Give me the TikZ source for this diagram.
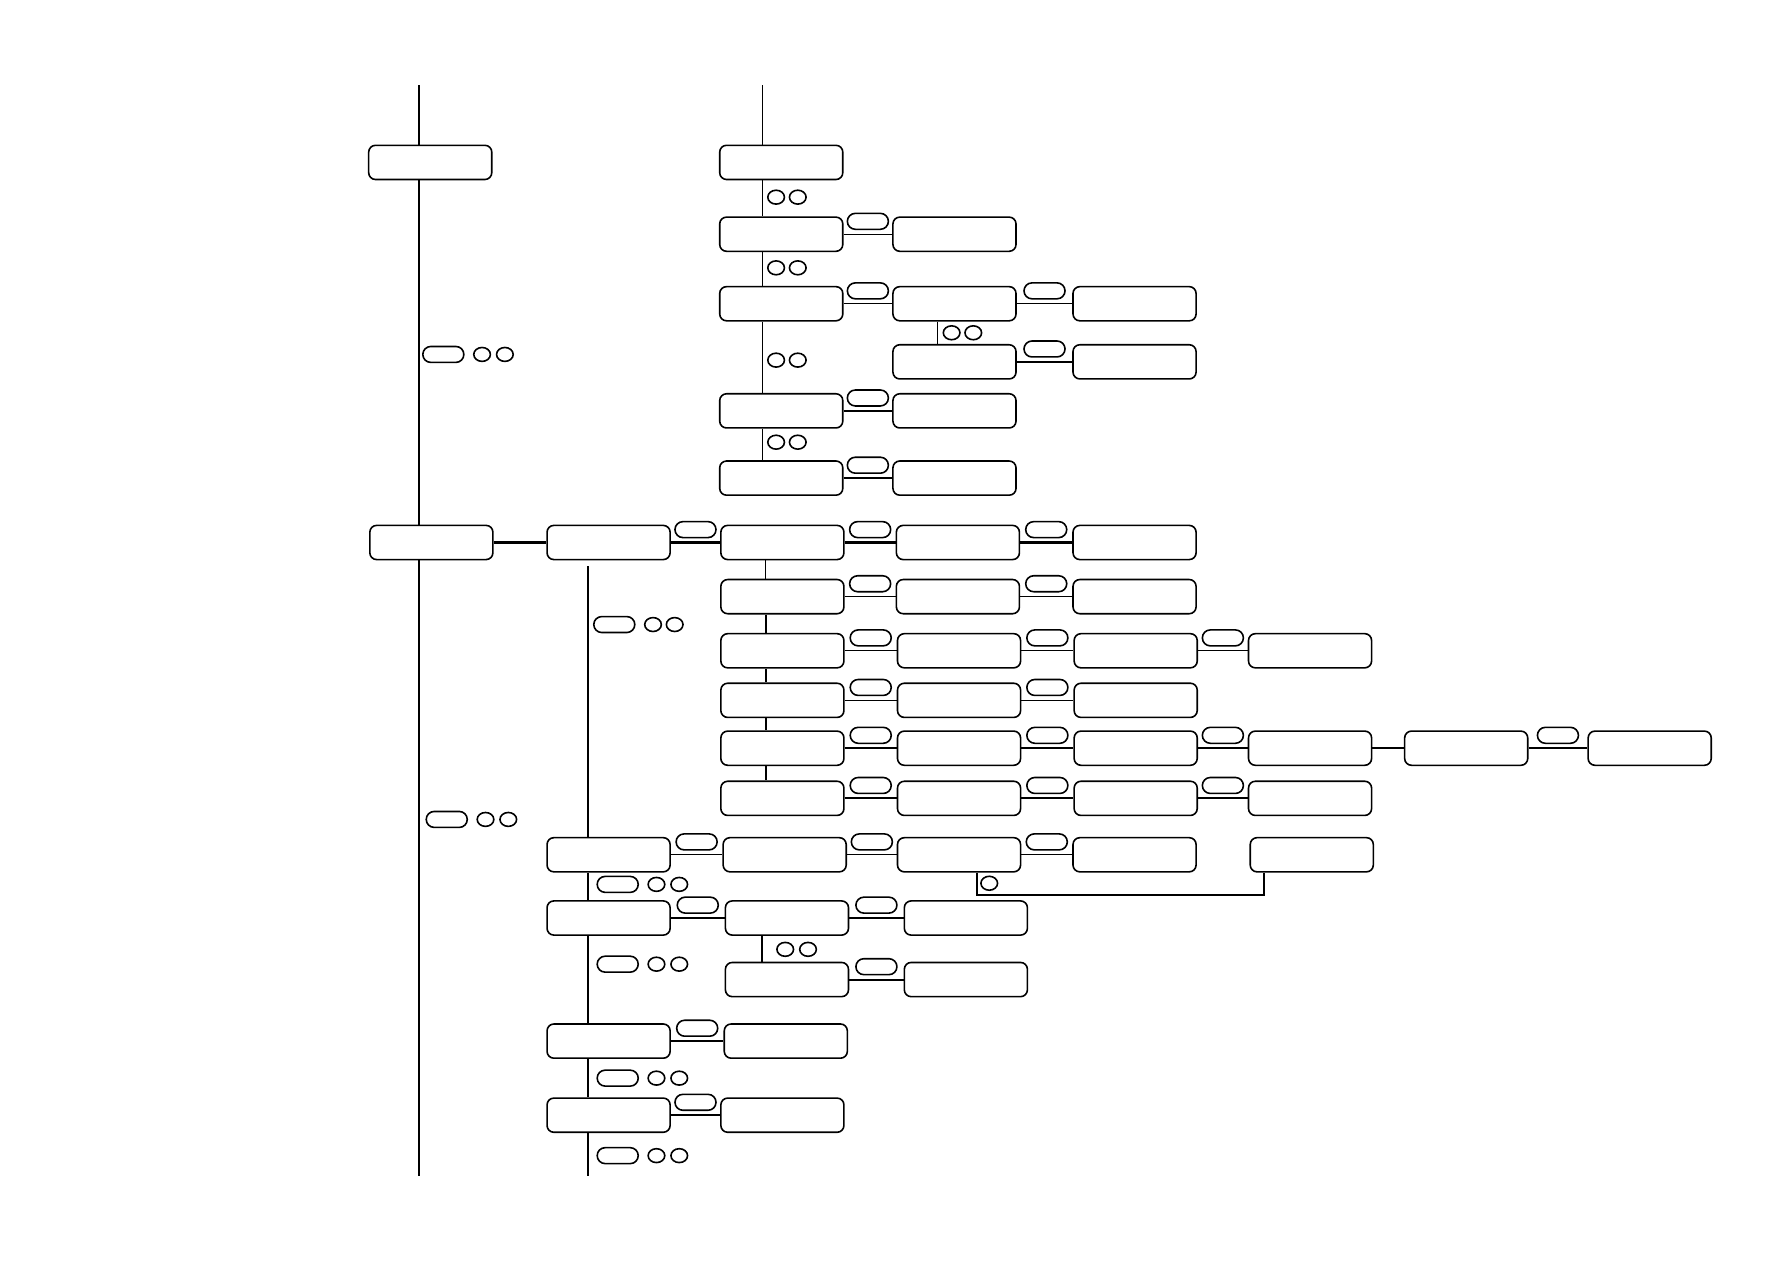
\documentclass[tikz,border=0pt]{standalone}
\usetikzlibrary{shapes.geometric,positioning}
\begin{document}
\begin{tikzpicture}[x=0.5pt,y=-0.5pt,
    box/.style={draw, rounded corners=3pt, minimum width=54pt, minimum height=15pt, inner sep=0pt, line width=0.7pt},
    keybox/.style={draw, rounded corners=3.5pt, minimum width=18pt, minimum height=7pt, inner sep=0pt, line width=0.7pt},
    onkey/.style={keybox, midway, above=1.8pt},
    button/.style={draw, ellipse, minimum width=7.3pt, minimum height=6.1pt, inner sep=0pt, line width=0.7pt},
    thinline/.style={line width=0.45pt},
    thickline/.style={line width=0.9pt}
    ]
    \useasboundingbox (0,0) rectangle (1568,1108);
    \coordinate (ltop) at (368,75);
    \coordinate (lbot) at (368,1032);
    \node[box] (A1) at (377.5,142.5) {};
    \node[box] (A2) at (378.5,476) {};
    \draw[thickline] (ltop) -- (ltop |- A1.north) (ltop |- A1.south) -- (ltop |- A2.north)
      (ltop |- A2.south) -- (lbot);
    \node[keybox] (lk1) at (389,311) {};
    \node[button] (lb1) at (423,311) {};
    \node[button] (lb2) at (443,311) {};
    \node[keybox] (lk2) at (392,719) {};
    \node[button] (lb3) at (426,719) {};
    \node[button] (lb4) at (446,719) {};

    \coordinate (mtop) at (669,75);
    \node[box] (B1) at (685.5,142.5) {};
    \node[box] (B2) at (685.5,205.5) {};
    \node[box] (B3) at (685.5,266.5) {};
    \node[box] (B5) at (685.5,360.5) {};
    \node[box] (B6) at (685.5,419.5) {};
    \draw[thinline] (mtop) -- (mtop |- B1.north) (mtop |- B1.south) -- (mtop |- B2.north)
      (mtop |- B2.south) -- (mtop |- B3.north) (mtop |- B3.south) -- (mtop |- B5.north)
      (mtop |- B5.south) -- (mtop |- B6.north);
    \node[button] (mb1) at (681,173) {};
    \node[button] (mb2) at (700,173) {};
    \node[button] (mb3) at (681,235) {};
    \node[button] (mb4) at (700,235) {};
    \node[button] (mb5) at (681,316) {};
    \node[button] (mb6) at (700,316) {};
    \node[button] (mb7) at (681,388) {};
    \node[button] (mb8) at (700,388) {};
    \node[box] (C2) at (837.5,205.5) {};
    \node[box] (C3) at (837.5,266.5) {};
    \node[box] (C4) at (837.5,317.5) {};
    \node[box] (C5) at (837.5,360.5) {};
    \node[box] (C6) at (837.5,419.5) {};
    \node[box] (D3) at (995.5,266.5) {};
    \node[box] (D4) at (995.5,317.5) {};
    \draw[thinline] (B2) -- node[onkey] (kB2) {} (C2);
    \draw[thinline] (B3) -- node[onkey] (kB3) {} (C3);
    \draw[thinline] (C3) -- node[onkey] (kC3) {} (D3);
    \draw[thickline] (C4) -- node[onkey] (kC4) {} (D4);
    \draw[thickline] (B5) -- node[onkey] (kB5) {} (C5);
    \draw[thickline] (B6) -- node[onkey] (kB6) {} (C6);
    \draw[thinline] ([xshift=-7.25pt]C3.south) -- ([xshift=-7.25pt]C4.north);
    \node[button] (cb1) at (835,292) {};
    \node[button] (cb2) at (854,292) {};

    \node[box] (E1) at (534,476) {};
    \node[box] (E2) at (534,750) {};
    \node[box] (E3) at (534,805.5) {};
    \node[box] (E4) at (534,913.5) {};
    \node[box] (E5) at (534,978.5) {};
    \coordinate (etop) at (516,497);
    \coordinate (ebot) at (516,1032);
    \draw[thickline] (A2) -- (E1);
    \draw[thickline] (etop) -- (etop |- E2.north) (etop |- E2.south) -- (etop |- E3.north)
      (etop |- E3.south) -- (etop |- E4.north) (etop |- E4.south) -- (etop |- E5.north)
      (etop |- E5.south) -- (ebot);
    \node[keybox] (ek1) at (539,548) {};
    \node[button] (eb1) at (573,548) {};
    \node[button] (eb2) at (592,548) {};
    \node[keybox] (ek2) at (542,776) {};
    \node[button] (eb3) at (576,776) {};
    \node[button] (eb4) at (596,776) {};
    \node[keybox] (ek3) at (542,846) {};
    \node[button] (eb5) at (576,846) {};
    \node[button] (eb6) at (596,846) {};
    \node[keybox] (ek4) at (542,946) {};
    \node[button] (eb7) at (576,946) {};
    \node[button] (eb8) at (596,946) {};
    \node[keybox] (ek5) at (542,1014) {};
    \node[button] (eb9) at (576,1014) {};
    \node[button] (eb10) at (596,1014) {};

    \node[box] (F1) at (686.5,476) {};
    \node[box] (F2) at (686.5,523.5) {};
    \node[box] (F3) at (686.5,571) {};
    \node[box] (F4) at (686.5,614.5) {};
    \node[box] (F5) at (686.5,656.5) {};
    \node[box] (F6) at (686.5,700.5) {};
    \node[box] (F7) at (688.5,750) {};
    \node[box] (F8) at (690.5,805.5) {};
    \node[box] (F9) at (690.5,859.5) {};
    \node[box] (F10) at (689.5,913.5) {};
    \node[box] (F11) at (686.5,978.5) {};
    \node[box] (G1) at (840.5,476) {};
    \node[box] (G2) at (840.5,523.5) {};
    \node[box] (G3) at (841.5,571) {};
    \node[box] (G4) at (841.5,614.5) {};
    \node[box] (G5) at (841.5,656.5) {};
    \node[box] (G6) at (841.5,700.5) {};
    \node[box] (G7) at (841.5,750) {};
    \node[box] (G8) at (847.5,805.5) {};
    \node[box] (G9) at (847.5,859.5) {};
    \node[box] (H1) at (995.5,476) {};
    \node[box] (H2) at (995.5,523.5) {};
    \node[box] (H3) at (996.5,571) {};
    \node[box] (H4) at (996.5,614.5) {};
    \node[box] (H5) at (996.5,656.5) {};
    \node[box] (H6) at (996.5,700.5) {};
    \node[box] (H7) at (995.5,750) {};
    \node[box] (I3) at (1149.5,571) {};
    \node[box] (I5) at (1149.5,656.5) {};
    \node[box] (I6) at (1149.5,700.5) {};
    \node[box] (I7) at (1151,750) {};
    \node[box] (J5) at (1286.5,656.5) {};
    \node[box] (K5) at (1447.5,656.5) {};

    \draw[thickline] (E1) -- node[onkey] (kE1) {} (F1);
    \draw[thickline] (F1) -- node[onkey] (kF1) {} (G1);
    \draw[thickline] (G1) -- node[onkey] (kG1) {} (H1);
    \draw[thinline] (F2) -- node[onkey] (kF2) {} (G2);
    \draw[thinline] (G2) -- node[onkey] (kG2) {} (H2);
    \draw[thinline] (F3) -- node[onkey] (kF3) {} (G3);
    \draw[thinline] (G3) -- node[onkey] (kG3) {} (H3);
    \draw[thinline] (H3) -- node[onkey] (kH3) {} (I3);
    \draw[thinline] (F4) -- node[onkey] (kF4) {} (G4);
    \draw[thinline] (G4) -- node[onkey] (kG4) {} (H4);
    \draw[thickline] (F5) -- node[onkey] (kF5) {} (G5);
    \draw[thickline] (G5) -- node[onkey] (kG5) {} (H5);
    \draw[thickline] (H5) -- node[onkey] (kH5) {} (I5);
    \draw[thickline] (I5) -- (J5);
    \draw[thickline] (J5) -- node[onkey] (kJ5) {} (K5);
    \draw[thickline] (F6) -- node[onkey] (kF6) {} (G6);
    \draw[thickline] (G6) -- node[onkey] (kG6) {} (H6);
    \draw[thickline] (H6) -- node[onkey] (kH6) {} (I6);
    \draw[thinline] (E2) -- node[onkey] (kE2) {} (F7);
    \draw[thinline] (F7) -- node[onkey] (kF7) {} (G7);
    \draw[thinline] (G7) -- node[onkey] (kG7) {} (H7);
    \draw[thickline] (E3) -- node[onkey] (kE3) {} (F8);
    \draw[thickline] (F8) -- node[onkey] (kF8) {} (G8);
    \draw[thickline] (F9) -- node[onkey] (kF9) {} (G9);
    \draw[thickline] (E4) -- node[onkey] (kE4) {} (F10);
    \draw[thickline] (E5) -- node[onkey] (kE5) {} (F11);

    \draw[thinline] ([xshift=-7.25pt]F1.south) -- ([xshift=-7.25pt]F2.north);
    \draw[thickline] ([xshift=-7.25pt]F2.south) -- ([xshift=-7.25pt]F3.north)
      ([xshift=-7.25pt]F3.south) -- ([xshift=-7.25pt]F4.north)
      ([xshift=-7.25pt]F4.south) -- ([xshift=-7.25pt]F5.north)
      ([xshift=-7.25pt]F5.south) -- ([xshift=-7.25pt]F6.north);
    \draw[thickline] ([xshift=-10.75pt]F8.south) -- ([xshift=-10.75pt]F9.north);
    \node[button] (fb1) at (689,833) {};
    \node[button] (fb2) at (709,833) {};
    \draw[thickline] ([xshift=7.75pt]G7.south) |- ([xshift=-21pt,yshift=-10pt]I7.south)
      -- ([xshift=-21pt]I7.south);
    \node[button] (gb1) at (868,775) {};
  \end{tikzpicture}
\end{document}
